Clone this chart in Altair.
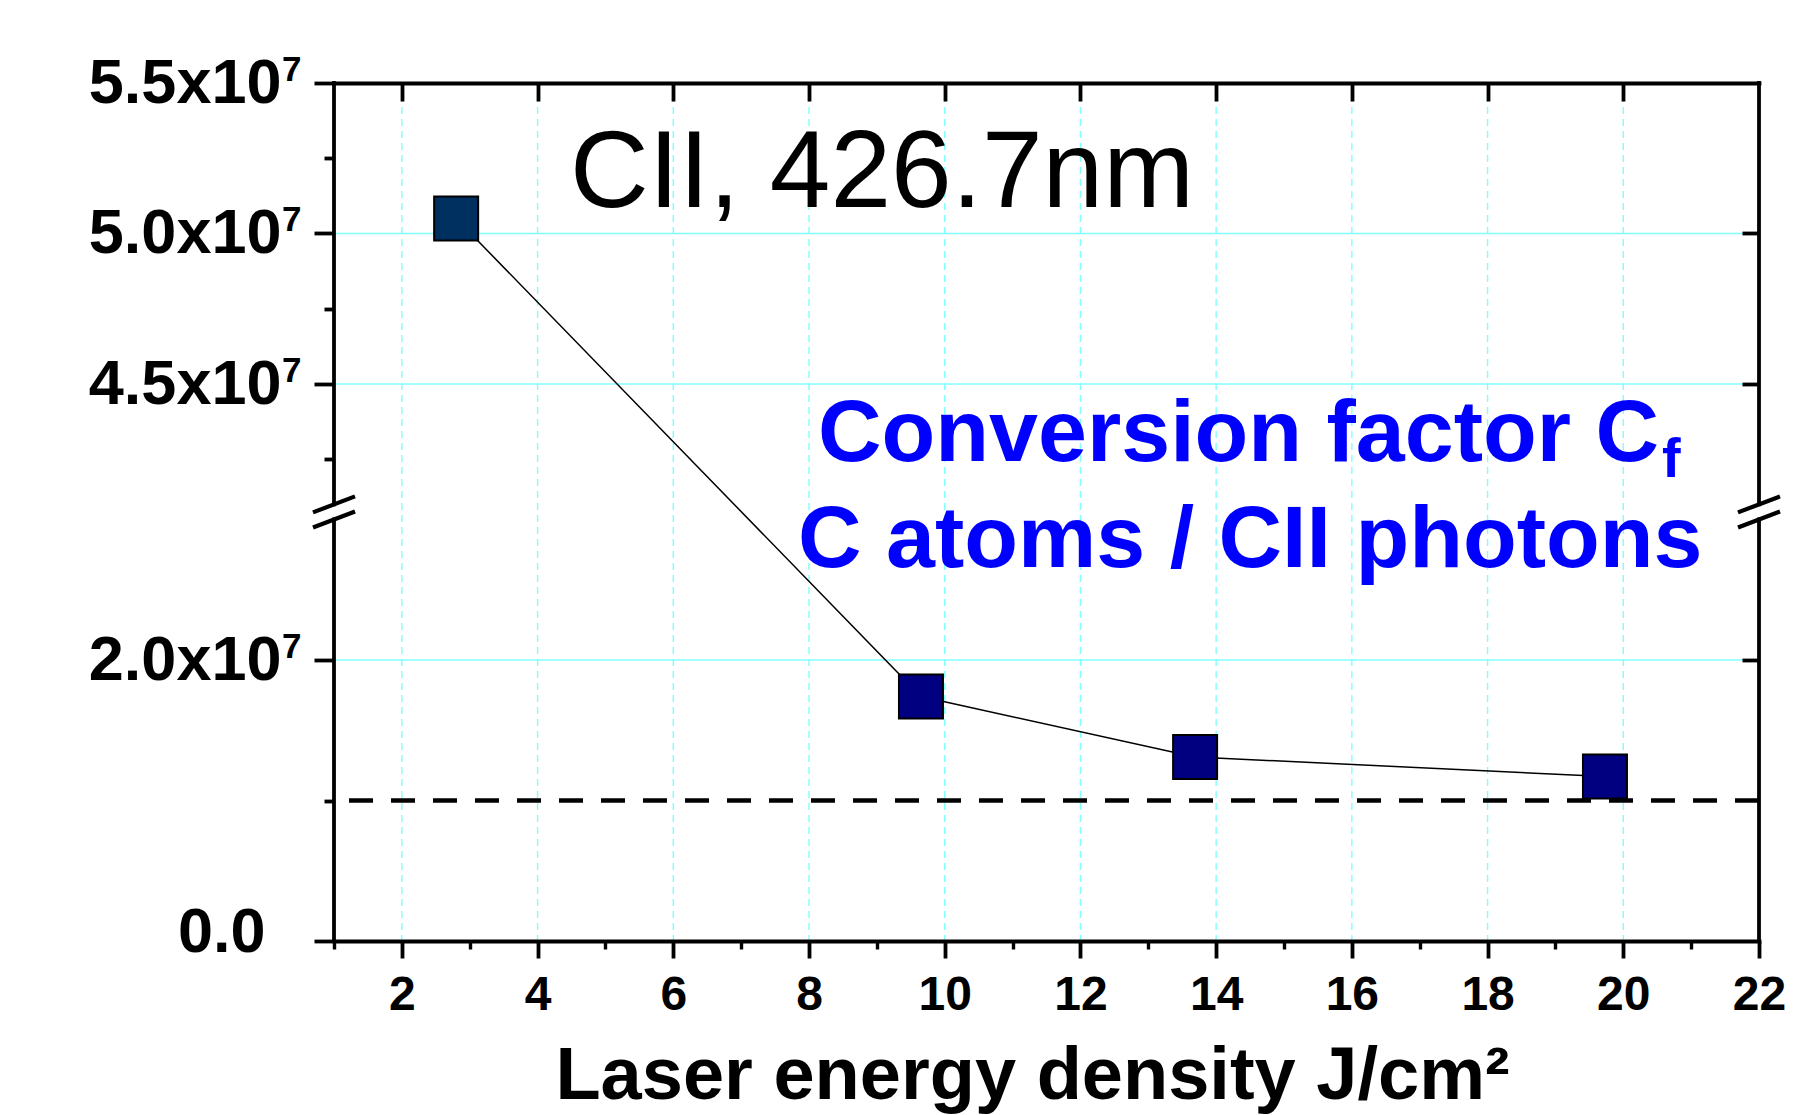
import json
import altair as alt
import pandas as pd

# ---------------- data ----------------
energy = [2.8, 9.65, 13.69, 19.73]                 # J/cm^2
conv_factor = [5.05e7, 1.74e7, 1.31e7, 1.17e7]     # C atoms / CII photons
marker_fill = ["#00305F", "#000080", "#000080", "#000080"]
limit_level = [1.0e7]                              # dashed reference level

x_major = [2, 4, 6, 8, 10, 12, 14, 16, 18, 20, 22]
x_minor = [1, 3, 5, 7, 9, 11, 13, 15, 17, 19, 21]
x_inner = [2, 4, 6, 8, 10, 12, 14, 16, 18, 20]
y_major = [0.0, 2.0e7, 4.5e7, 5.0e7, 5.5e7]
y_major_labels = ["0.0", "2.0x10", "4.5x10", "5.0x10", "5.5x10"]
y_exp_values = [2.0e7, 4.5e7, 5.0e7, 5.5e7]
y_exp_label = "7"
y_minor = [1.0e7, 4.25e7, 4.75e7, 5.25e7]
y_inner = [2.0e7, 4.5e7, 5.0e7]
lower_segment = [0.0, 3.0e7]
upper_segment = [4.1e7, 5.5e7]
x_range = [1, 22]

x_title = "Laser energy density J/cm\u00b2"
label_line = "CII, 426.7nm"
blue_line1 = "Conversion factor C"
blue_sub = "f"
blue_line2 = "C atoms / CII photons"

# ---------------- layout ----------------
W, H = 1425, 858
FONT = "Liberation Sans"
AX = 3.8
CYAN = "#80FFFF"

xs = alt.Scale(domain=x_range, nice=False, zero=False)
# broken axis: piecewise linear scale (lower and upper segment, small gap)
ys = alt.Scale(domain=[lower_segment[0], lower_segment[1], upper_segment[0], upper_segment[1]],
               range=[H, 436.5, 421.4, 0], nice=False, zero=False)

pts = pd.DataFrame({"e": energy, "c": conv_factor, "f": marker_fill})

label_expr = "{}[indexof({}, datum.value)]".format(
    json.dumps(y_major_labels, ensure_ascii=False), json.dumps(y_major))

axis_x_main = alt.Axis(orient="bottom", values=x_major, format="d", tickSize=17, tickWidth=AX,
                       tickColor="black", domain=True, domainColor="black", domainWidth=AX,
                       domainCap="square", labelFont=FONT, labelFontSize=48, labelFontWeight="bold",
                       labelColor="black", labelPadding=13, labelFlush=False, labelOverlap=False,
                       grid=False, title=x_title, titleFont=FONT, titleFontSize=74,
                       titleFontWeight="bold", titleColor="black", titleX=698, titleY=157,
                       titleBaseline="alphabetic", zindex=2)
axis_x_minor = alt.Axis(orient="bottom", values=x_minor, tickSize=8, tickWidth=3.4, tickColor="black",
                        domain=False, labels=False, grid=False, title=None, zindex=2)
axis_x_top = alt.Axis(orient="bottom", offset=-H, values=x_inner, tickSize=18, tickWidth=AX,
                      tickColor="black", domain=True, domainColor="black", domainWidth=AX,
                      domainCap="square", labels=False, grid=False, title=None, zindex=2)
axis_y_main = alt.Axis(orient="left", values=y_major, tickSize=20, tickWidth=AX, tickColor="black",
                       domain=False, labelExpr=label_expr, labelFont=FONT, labelFontSize=63,
                       labelFontWeight="bold", labelColor="black", labelLimit=0,
                       labelPadding={"condition": {"test": "datum.value == 0", "value": 49}, "value": 33},
                       labelOffset={"condition": {"test": "datum.value == 0", "value": -9}, "value": 0},
                       labelFlush=False, labelOverlap=False, grid=False, title=None, zindex=2)
axis_y_exp = alt.Axis(orient="left", values=y_exp_values, tickSize=20, tickOpacity=0,
                      domain=False, labelExpr="'" + y_exp_label + "'", labelFont=FONT,
                      labelFontSize=35, labelFontWeight="bold", labelColor="black", labelLimit=0,
                      labelPadding=13, labelOffset=-14, labelFlush=False, labelOverlap=False,
                      grid=False, title=None, zindex=2)
axis_y_minor = alt.Axis(orient="left", values=y_minor, tickSize=10, tickWidth=AX, tickColor="black",
                        domain=False, labels=False, grid=False, title=None, zindex=2)
axis_y_right = alt.Axis(orient="left", offset=-W, values=y_inner, tickSize=17, tickWidth=AX,
                        tickColor="black", domain=False, labels=False, grid=False, title=None, zindex=2)

grid_v = alt.Chart(pd.DataFrame({"gx": x_inner})).mark_rule(
    color=CYAN, strokeWidth=1.4, strokeDash=[7, 5]).encode(
    x=alt.X("gx:Q", scale=xs, axis=axis_x_top))

grid_h = alt.Chart(pd.DataFrame({"gy": y_inner})).mark_rule(
    color=CYAN, strokeWidth=1.6).encode(
    y=alt.Y("gy:Q", scale=ys, axis=axis_y_right))

ref = alt.Chart(pd.DataFrame({"r": limit_level})).mark_rule(
    color="black", strokeWidth=4.7, strokeDash=[24, 18]).encode(
    y=alt.Y("r:Q", scale=ys, axis=axis_y_exp))

line = alt.Chart(pts).mark_line(color="black", strokeWidth=1.5).encode(
    x=alt.X("e:Q", scale=xs, axis=axis_x_main),
    y=alt.Y("c:Q", scale=ys, axis=axis_y_main))

squares = alt.Chart(pts).mark_square(size=1936, stroke="black", strokeWidth=2, opacity=1).encode(
    x=alt.X("e:Q", scale=xs, axis=axis_x_minor),
    y=alt.Y("c:Q", scale=ys, axis=axis_y_minor),
    fill=alt.Fill("f:N", scale=None))

segs = pd.DataFrame({
    "sx": [x_range[0], x_range[0], x_range[1], x_range[1]],
    "sy": [lower_segment[0], upper_segment[0], lower_segment[0], upper_segment[0]],
    "sy2": [lower_segment[1], upper_segment[1], lower_segment[1], upper_segment[1]],
})
frame = alt.Chart(segs).mark_rule(color="black", strokeWidth=AX, strokeCap="square").encode(
    x=alt.X("sx:Q", scale=xs, axis=None),
    y=alt.Y("sy:Q", scale=ys, axis=None),
    y2="sy2:Q")

brk = pd.DataFrame({
    "bx": [x_range[0], x_range[0], x_range[1], x_range[1]],
    "by": [lower_segment[1], upper_segment[0], lower_segment[1], upper_segment[0]],
})
breaks = alt.Chart(brk).mark_rule(color="black", strokeWidth=4.2, xOffset=-21, x2Offset=21,
                                  yOffset=8, y2Offset=-8).encode(
    x=alt.X("bx:Q", scale=xs, axis=None), x2="bx:Q",
    y=alt.Y("by:Q", scale=ys, axis=None), y2="by:Q")


def label(text, x, y, size, weight, color):
    return alt.Chart(pd.DataFrame({"t": [text]})).mark_text(
        align="left", baseline="alphabetic", font=FONT, fontSize=size,
        fontWeight=weight, color=color).encode(
        x=alt.value(x), y=alt.value(y), text="t:N")


t1 = label(label_line, 236, 124, 109, "normal", "black")
t2 = label(blue_line1, 484, 378, 88, "bold", "#0000FF")
t3 = label(blue_sub, 1328, 394, 56, "bold", "#0000FF")
t4 = label(blue_line2, 464, 484, 88, "bold", "#0000FF")

chart = alt.layer(grid_v, grid_h, ref, line, squares, frame, breaks, t1, t2, t3, t4).resolve_axis(
    x="independent", y="independent").properties(
    width=W, height=H,
    autosize=alt.AutoSizeParams(type="none"),
    padding={"left": 334, "top": 83, "right": 41, "bottom": 174},
    background="white",
).configure_view(strokeWidth=0)

chart.save("out.html", embed_options={"renderer": "svg", "actions": False})
